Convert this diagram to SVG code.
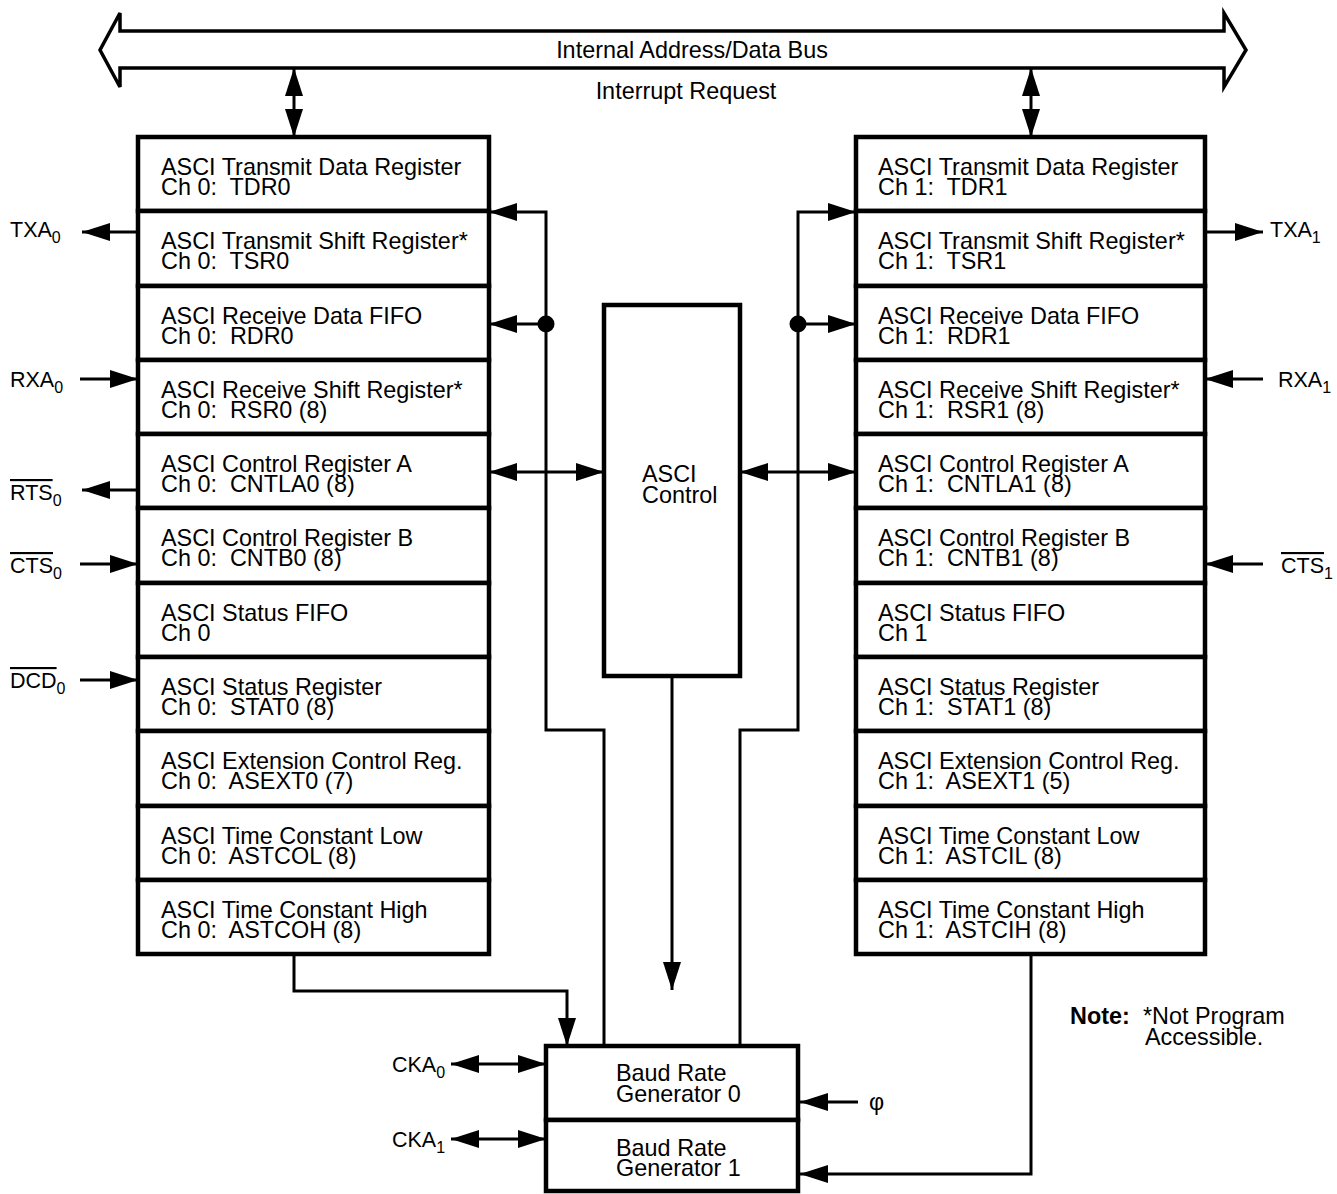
<svg xmlns="http://www.w3.org/2000/svg" width="1337" height="1194" viewBox="0 0 1337 1194">
<style>
text{font-family:"Liberation Sans",Arial,Helvetica,sans-serif;font-size:23.4px;fill:#000;white-space:pre}
.sig{font-size:21.5px}
.sub{font-size:16px}
.box{fill:#fff;stroke:#000;stroke-width:4.5}
.ln{fill:none;stroke:#000;stroke-width:3}
.ah{marker-end:url(#ah)}
.ah2{marker-start:url(#ah);marker-end:url(#ah)}
.ov{text-decoration:overline}
</style>
<defs>
<marker id="ah" viewBox="0 0 28 18" refX="28" refY="9" markerWidth="28" markerHeight="18" markerUnits="userSpaceOnUse" orient="auto-start-reverse"><path d="M0,0 L28,9 L0,18 z" fill="#000"/></marker>
</defs>
<rect width="1337" height="1194" fill="#fff"/>

<g id="bus">
<path d="M120,31 L1224,31 L1224,13 L1246,50 L1224,87 L1224,68 L120,68 L120,87 L100,50 L120,13 Z" fill="#fff" stroke="#000" stroke-width="3.5"/>
<text x="692" y="58" text-anchor="middle" font-size="23.7">Internal Address/Data Bus</text>
<text x="686" y="99" text-anchor="middle" font-size="23.7">Interrupt Request</text>
</g>

<g id="ch0">
<g id="tdr0"><rect class="box" x="138" y="137" width="351" height="74"/><text><tspan x="161" y="175">ASCI Transmit Data Register</tspan><tspan x="161" y="195">Ch 0:  TDR0</tspan></text></g>
<g id="tsr0"><rect class="box" x="138" y="211" width="351" height="75"/><text><tspan x="161" y="249">ASCI Transmit Shift Register*</tspan><tspan x="161" y="269">Ch 0:  TSR0</tspan></text></g>
<g id="rdr0"><rect class="box" x="138" y="286" width="351" height="74"/><text><tspan x="161" y="324">ASCI Receive Data FIFO</tspan><tspan x="161" y="344">Ch 0:  RDR0</tspan></text></g>
<g id="rsr0"><rect class="box" x="138" y="360" width="351" height="74"/><text><tspan x="161" y="398">ASCI Receive Shift Register*</tspan><tspan x="161" y="418">Ch 0:  RSR0 (8)</tspan></text></g>
<g id="cntla0"><rect class="box" x="138" y="434" width="351" height="74"/><text><tspan x="161" y="472">ASCI Control Register A</tspan><tspan x="161" y="492">Ch 0:  CNTLA0 (8)</tspan></text></g>
<g id="cntb0"><rect class="box" x="138" y="508" width="351" height="75"/><text><tspan x="161" y="546">ASCI Control Register B</tspan><tspan x="161" y="566">Ch 0:  CNTB0 (8)</tspan></text></g>
<g id="sfifo0"><rect class="box" x="138" y="583" width="351" height="74"/><text><tspan x="161" y="621">ASCI Status FIFO</tspan><tspan x="161" y="641">Ch 0</tspan></text></g>
<g id="stat0"><rect class="box" x="138" y="657" width="351" height="74"/><text><tspan x="161" y="695">ASCI Status Register</tspan><tspan x="161" y="715">Ch 0:  STAT0 (8)</tspan></text></g>
<g id="asext0"><rect class="box" x="138" y="731" width="351" height="75"/><text><tspan x="161" y="769">ASCI Extension Control Reg.</tspan><tspan x="161" y="789">Ch 0:  ASEXT0 (7)</tspan></text></g>
<g id="astcol"><rect class="box" x="138" y="806" width="351" height="74"/><text><tspan x="161" y="844">ASCI Time Constant Low</tspan><tspan x="161" y="864">Ch 0:  ASTCOL (8)</tspan></text></g>
<g id="astcoh"><rect class="box" x="138" y="880" width="351" height="74"/><text><tspan x="161" y="918">ASCI Time Constant High</tspan><tspan x="161" y="938">Ch 0:  ASTCOH (8)</tspan></text></g>
</g>

<g id="ch1">
<g id="tdr1"><rect class="box" x="856" y="137" width="349" height="74"/><text><tspan x="878" y="175">ASCI Transmit Data Register</tspan><tspan x="878" y="195">Ch 1:  TDR1</tspan></text></g>
<g id="tsr1"><rect class="box" x="856" y="211" width="349" height="75"/><text><tspan x="878" y="249">ASCI Transmit Shift Register*</tspan><tspan x="878" y="269">Ch 1:  TSR1</tspan></text></g>
<g id="rdr1"><rect class="box" x="856" y="286" width="349" height="74"/><text><tspan x="878" y="324">ASCI Receive Data FIFO</tspan><tspan x="878" y="344">Ch 1:  RDR1</tspan></text></g>
<g id="rsr1"><rect class="box" x="856" y="360" width="349" height="74"/><text><tspan x="878" y="398">ASCI Receive Shift Register*</tspan><tspan x="878" y="418">Ch 1:  RSR1 (8)</tspan></text></g>
<g id="cntla1"><rect class="box" x="856" y="434" width="349" height="74"/><text><tspan x="878" y="472">ASCI Control Register A</tspan><tspan x="878" y="492">Ch 1:  CNTLA1 (8)</tspan></text></g>
<g id="cntb1"><rect class="box" x="856" y="508" width="349" height="75"/><text><tspan x="878" y="546">ASCI Control Register B</tspan><tspan x="878" y="566">Ch 1:  CNTB1 (8)</tspan></text></g>
<g id="sfifo1"><rect class="box" x="856" y="583" width="349" height="74"/><text><tspan x="878" y="621">ASCI Status FIFO</tspan><tspan x="878" y="641">Ch 1</tspan></text></g>
<g id="stat1"><rect class="box" x="856" y="657" width="349" height="74"/><text><tspan x="878" y="695">ASCI Status Register</tspan><tspan x="878" y="715">Ch 1:  STAT1 (8)</tspan></text></g>
<g id="asext1"><rect class="box" x="856" y="731" width="349" height="75"/><text><tspan x="878" y="769">ASCI Extension Control Reg.</tspan><tspan x="878" y="789">Ch 1:  ASEXT1 (5)</tspan></text></g>
<g id="astcil"><rect class="box" x="856" y="806" width="349" height="74"/><text><tspan x="878" y="844">ASCI Time Constant Low</tspan><tspan x="878" y="864">Ch 1:  ASTCIL (8)</tspan></text></g>
<g id="astcih"><rect class="box" x="856" y="880" width="349" height="74"/><text><tspan x="878" y="918">ASCI Time Constant High</tspan><tspan x="878" y="938">Ch 1:  ASTCIH (8)</tspan></text></g>
</g>

<g id="asci-control"><rect class="box" x="604" y="305" width="136" height="371"/><text><tspan x="642" y="482">ASCI</tspan><tspan x="642" y="503">Control</tspan></text></g>

<g id="brg0"><rect class="box" x="546" y="1046" width="252" height="74"/><text><tspan x="616" y="1081">Baud Rate</tspan><tspan x="616" y="1102">Generator 0</tspan></text></g>
<g id="brg1"><rect class="box" x="546" y="1120" width="252" height="71"/><text><tspan x="616" y="1156">Baud Rate</tspan><tspan x="616" y="1176">Generator 1</tspan></text></g>

<g id="signals">
<text class="sig" x="10" y="237">TXA<tspan class="sub" dy="6">0</tspan></text>
<text class="sig" x="10" y="387">RXA<tspan class="sub" dy="6">0</tspan></text>
<text class="sig" x="10" y="500"><tspan class="ov">RTS</tspan><tspan class="sub" dy="6">0</tspan></text>
<text class="sig" x="10" y="573"><tspan class="ov">CTS</tspan><tspan class="sub" dy="6">0</tspan></text>
<text class="sig" x="10" y="688"><tspan class="ov">DCD</tspan><tspan class="sub" dy="6">0</tspan></text>
<text class="sig" x="1270" y="237">TXA<tspan class="sub" dy="6">1</tspan></text>
<text class="sig" x="1278" y="387">RXA<tspan class="sub" dy="6">1</tspan></text>
<text class="sig" x="1281" y="573"><tspan class="ov">CTS</tspan><tspan class="sub" dy="6">1</tspan></text>
<text class="sig" x="392" y="1072" font-size="22">CKA<tspan class="sub" dy="6">0</tspan></text>
<text class="sig" x="392" y="1147" font-size="22">CKA<tspan class="sub" dy="6">1</tspan></text>
<text x="869" y="1110" font-size="22">φ</text>
</g>

<g id="note">
<text x="1070" y="1024" font-weight="bold">Note:</text>
<text><tspan x="1143" y="1024">*Not Program</tspan><tspan x="1145" y="1045">Accessible.</tspan></text>
</g>

<g id="connectors">
<line class="ln ah2" x1="294" y1="68" x2="294" y2="137"/>
<line class="ln ah2" x1="1031" y1="68" x2="1031" y2="137"/>
<line class="ln ah" x1="138" y1="232" x2="82" y2="232"/>
<line class="ln ah" x1="80" y1="379" x2="138" y2="379"/>
<line class="ln ah" x1="138" y1="490" x2="82" y2="490"/>
<line class="ln ah" x1="80" y1="564" x2="138" y2="564"/>
<line class="ln ah" x1="80" y1="680" x2="138" y2="680"/>
<line class="ln ah" x1="1205" y1="232" x2="1263" y2="232"/>
<line class="ln ah" x1="1263" y1="379" x2="1205" y2="379"/>
<line class="ln ah" x1="1263" y1="564" x2="1205" y2="564"/>
<polyline class="ln ah" points="604,1046 604,730 546,730 546,212 489,212"/>
<line class="ln ah" x1="546" y1="324" x2="489" y2="324"/>
<circle cx="546" cy="324" r="8.5" fill="#000"/>
<polyline class="ln ah" points="740,1046 740,730 798,730 798,212 856,212"/>
<line class="ln ah" x1="798" y1="324" x2="856" y2="324"/>
<circle cx="798" cy="324" r="8.5" fill="#000"/>
<line class="ln ah2" x1="489" y1="472" x2="604" y2="472"/>
<line class="ln ah2" x1="740" y1="472" x2="856" y2="472"/>
<line class="ln ah" x1="672" y1="676" x2="672" y2="990"/>
<polyline class="ln ah" points="294,954 294,991 567,991 567,1046"/>
<line class="ln ah2" x1="451" y1="1064" x2="546" y2="1064"/>
<line class="ln ah2" x1="451" y1="1139" x2="546" y2="1139"/>
<line class="ln ah" x1="858" y1="1102" x2="800" y2="1102"/>
<polyline class="ln ah" points="1031,954 1031,1174 800,1174"/>
</g>
</svg>
